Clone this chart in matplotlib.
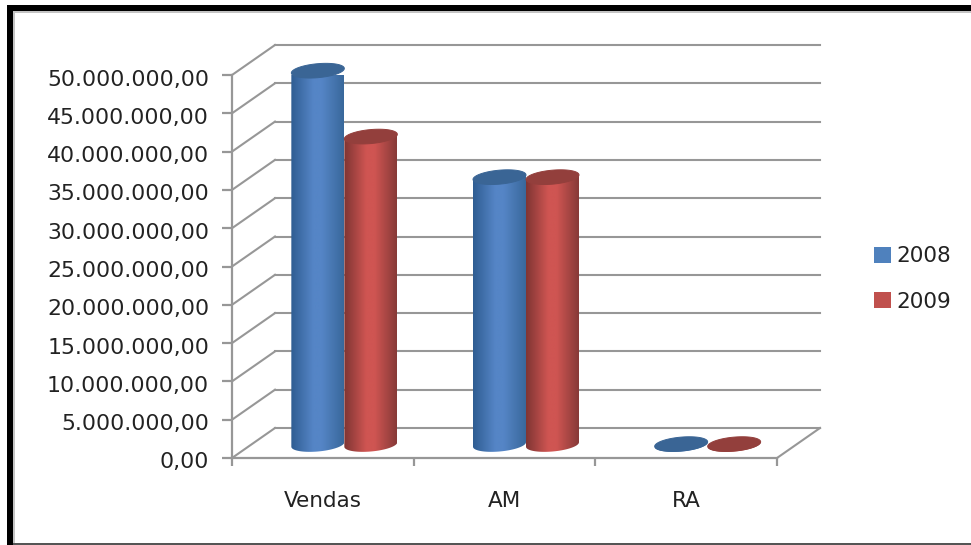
import numpy as np
import matplotlib
matplotlib.use("Agg")
import matplotlib.pyplot as plt
from matplotlib.patches import Patch, Polygon, Rectangle
from matplotlib.ticker import FuncFormatter
from matplotlib.transforms import ScaledTranslation

categories = ["Vendas", "AM", "RA"]
years = ["2008", "2009"]
values_2008 = [48800000, 34900000, 50000]
values_2009 = [40200000, 34900000, 50000]
y_ticks = list(range(0, 50000001, 5000000))

FIG_W, FIG_H = 971, 545
LEFT, RIGHT, TOP, BOTTOM = 232, 777, 75, 458
GRAY = "#979797"

# size of the fake 3D floor, in data units
px_x = 3 / (RIGHT - LEFT)
px_y = 50000000 / (BOTTOM - TOP)
depth_x = 43 * px_x
depth_y = 30 * px_y
bar_dx = 21.5 * px_x
bar_dy = 13.5 * px_y
bar_w = 53 * px_x
ell_h = 7 * px_y
ell_tilt = 4.5 * px_y / bar_w

blue = {"edge_l": "#2f5d92", "mid": "#5585c6", "edge_r": "#39689b", "top": "#3a6595"}
red = {"edge_l": "#7f3533", "mid": "#cf5552", "edge_r": "#873a38", "top": "#933f3c"}


def ellipse_points(cx, cy, n=80):
    t = np.linspace(0, 2 * np.pi, n)
    xs = cx + bar_w / 2 * np.cos(t)
    ys = cy + ell_h * np.sin(t) + ell_tilt * (xs - cx)
    return np.column_stack([xs, ys])


def cylinder(ax, cx, value, colors):
    base = bar_dy
    top = value + bar_dy
    t = np.linspace(np.pi, 2 * np.pi, 40)
    xs = cx + bar_w / 2 * np.cos(t)
    bottom_edge = base + ell_h * np.sin(t) + ell_tilt * (xs - cx)
    top_edge = top + ell_tilt * (xs - cx)
    outline = np.vstack([
        np.column_stack([xs, bottom_edge]),
        np.column_stack([xs[::-1], top_edge[::-1]]),
    ])
    body = Polygon(outline, closed=True, facecolor="none", edgecolor="none", clip_on=False, zorder=3)
    ax.add_patch(body)

    # horizontal shading across the cylinder
    stops = [colors["edge_l"], colors["mid"], colors["mid"], colors["edge_r"]]
    rgb = np.array([matplotlib.colors.to_rgb(c) for c in stops])
    pos = np.linspace(0, 1, 120)
    grad = np.column_stack([np.interp(pos, [0, 0.42, 0.58, 1], rgb[:, i]) for i in range(3)])
    im = ax.imshow(grad[np.newaxis, :, :], aspect="auto", interpolation="bilinear", zorder=3,
                   extent=[cx - bar_w / 2, cx + bar_w / 2, base - 2 * ell_h, top + 2 * ell_h])
    im.set_clip_path(body)

    ax.add_patch(Polygon(ellipse_points(cx, top), closed=True, facecolor=colors["top"],
                         edgecolor=colors["top"], linewidth=0.7, clip_on=False, zorder=4))


fig = plt.figure(figsize=(FIG_W / 100, FIG_H / 100), dpi=100, facecolor="white")
plt.rcParams["font.family"] = "DejaVu Sans"

# black frame on the top and left, thin line at the bottom
frame = [
    (7, 5, FIG_W - 7, 6, "black"),
    (7, 5, 6, FIG_H - 5, "black"),
    (13, 11, FIG_W - 13, 2, "#c4c4c4"),
    (13, 11, 2, FIG_H - 11, "#c4c4c4"),
    (13, 543, FIG_W - 13, 1.5, "#555555"),
]
for x, y, w, h, c in frame:
    fig.add_artist(Rectangle((x / FIG_W, 1 - (y + h) / FIG_H), w / FIG_W, h / FIG_H,
                             transform=fig.transFigure, facecolor=c, edgecolor="none"))

ax = fig.add_axes([LEFT / FIG_W, 1 - BOTTOM / FIG_H, (RIGHT - LEFT) / FIG_W, (BOTTOM - TOP) / FIG_H])
ax.patch.set_alpha(0)

# gridlines run along the side wall and then the back wall
for v in y_ticks:
    ax.plot([0, depth_x], [v, v + depth_y], color=GRAY, lw=1.5, clip_on=False, zorder=1)
    ax.plot([depth_x, 3 + depth_x], [v + depth_y, v + depth_y], color=GRAY, lw=1.5, clip_on=False, zorder=1)
ax.plot([3, 3 + depth_x], [0, depth_y], color=GRAY, lw=1.5, clip_on=False, zorder=1)

for i in range(len(categories)):
    center = i + 0.5 + bar_dx
    cylinder(ax, center - bar_w / 2, values_2008[i], blue)
    cylinder(ax, center + bar_w / 2, values_2009[i], red)

ax.set_xlim(0, 3)
ax.set_ylim(0, 50000000)

for side in ["top", "right"]:
    ax.spines[side].set_visible(False)
for side in ["left", "bottom"]:
    ax.spines[side].set_color(GRAY)
    ax.spines[side].set_linewidth(1.6)

ax.set_yticks(y_ticks)
ax.yaxis.set_major_formatter(FuncFormatter(lambda v, pos: f"{int(v):,}".replace(",", ".") + ",00"))
ax.set_xticks([0, 1, 2, 3])
ax.set_xticklabels([])
ax.set_xticks([0.5, 1.5, 2.5], minor=True)
ax.set_xticklabels(categories, minor=True)
ax.tick_params(axis="y", length=7, width=1.6, color=GRAY, labelsize=15.8, labelcolor="#222222", pad=9.5)
ax.tick_params(axis="x", which="major", length=6, width=1.6, color=GRAY)
ax.tick_params(axis="x", which="minor", length=0, labelsize=15.5, labelcolor="#222222", pad=24)

# value labels sit a little below their ticks
label_shift = ScaledTranslation(0, -2.5 / 100, fig.dpi_scale_trans)
for label in ax.get_yticklabels():
    label.set_transform(label.get_transform() + label_shift)

handles = [Patch(facecolor="#4f81bd", label=years[0]), Patch(facecolor="#c0504d", label=years[1])]
fig.legend(handles=handles, loc="upper left", bbox_to_anchor=(855 / FIG_W, 1 - 227 / FIG_H), frameon=False,
           fontsize=15.5, labelspacing=1.17, handlelength=0.75, handleheight=0.75, handletextpad=0.25,
           labelcolor="#222222")

plt.savefig("out.png", dpi=100)
plt.close()
